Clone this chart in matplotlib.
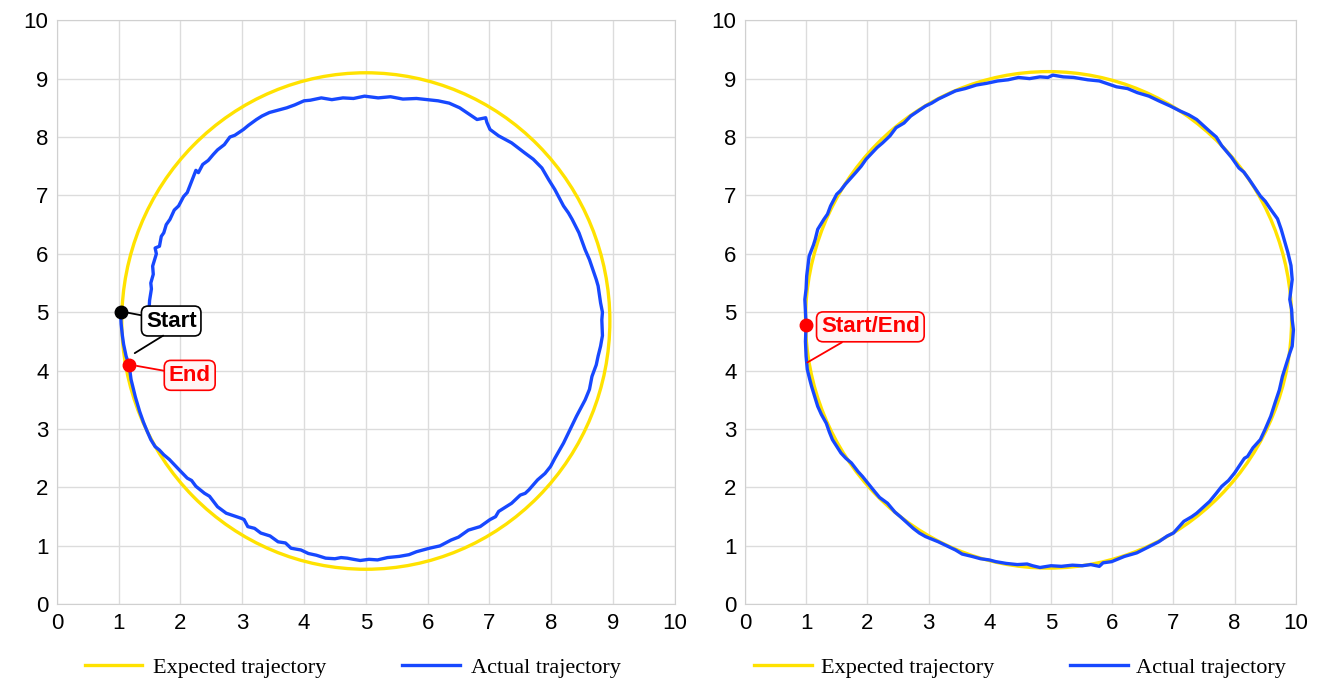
import matplotlib
matplotlib.use('Agg')
import matplotlib.pyplot as plt
from matplotlib.patches import Ellipse
from matplotlib.lines import Line2D

plt.rcParams['font.family'] = ['Liberation Sans', 'DejaVu Sans']

YELLOW = '#FFE200'
BLUE = '#1748FF'

# expected trajectory (ellipse in data units): center x, center y, width, height
left_expected = (5.0, 4.85, 7.9, 8.5)
right_expected = (4.96, 4.87, 7.94, 8.5)

# actual trajectory, left chart
left_x = [1.03, 1.04, 1.06, 1.08, 1.12, 1.17, 1.2, 1.27, 1.34, 1.4, 1.45, 1.52, 1.59, 1.66, 1.73,
          1.82, 1.9, 2.0, 2.11, 2.18, 2.25, 2.39, 2.47, 2.6, 2.74, 2.85, 2.99, 3.03, 3.09, 3.2,
          3.3, 3.45, 3.58, 3.7, 3.79, 3.95, 4.07, 4.2, 4.35, 4.5, 4.6, 4.7, 4.8, 4.91, 5.05,
          5.19, 5.35, 5.54, 5.7, 5.82, 6.03, 6.2, 6.38, 6.5, 6.66, 6.85, 7.01, 7.1, 7.15, 7.36,
          7.5, 7.58, 7.64, 7.78, 7.9, 7.99, 8.06, 8.2, 8.3, 8.41, 8.55, 8.62, 8.66, 8.73, 8.76,
          8.80, 8.83, 8.82, 8.83, 8.80, 8.78, 8.76, 8.73, 8.62, 8.55, 8.45, 8.34, 8.28, 8.2,
          8.06, 7.96, 7.85, 7.71, 7.57, 7.36, 7.15, 7.01, 6.96, 6.94, 6.8, 6.52, 6.35, 6.17,
          6.0, 5.82, 5.6, 5.40, 5.2, 4.98, 4.8, 4.63, 4.45, 4.28, 4.1, 4.0, 3.85, 3.72, 3.58,
          3.44, 3.32, 3.23, 3.1, 3.02, 2.88, 2.8, 2.71, 2.6, 2.53, 2.45, 2.36, 2.29, 2.25, 2.11,
          2.05, 1.97, 1.9, 1.83, 1.77, 1.73, 1.69, 1.66, 1.59, 1.61, 1.55, 1.56, 1.52, 1.53,
          1.52, 1.5, 1.49]
left_y = [5.0, 4.8, 4.6, 4.45, 4.25, 4.09, 3.85, 3.55, 3.3, 3.12, 2.99, 2.82, 2.7, 2.64, 2.56,
          2.48, 2.39, 2.28, 2.16, 2.12, 2.02, 1.9, 1.85, 1.67, 1.56, 1.52, 1.47, 1.45, 1.33, 1.3,
          1.22, 1.17, 1.07, 1.05, 0.96, 0.93, 0.87, 0.84, 0.79, 0.78, 0.8, 0.79, 0.77, 0.75, 0.77,
          0.76, 0.8, 0.82, 0.85, 0.9, 0.96, 1.0, 1.1, 1.15, 1.27, 1.33, 1.45, 1.5, 1.59, 1.73,
          1.87, 1.9, 1.96, 2.13, 2.24, 2.36, 2.5, 2.76, 2.98, 3.22, 3.5, 3.68, 3.9, 4.1, 4.25,
          4.42, 4.6, 4.87, 5.0, 5.16, 5.3, 5.45, 5.56, 5.9, 6.07, 6.36, 6.59, 6.7, 6.82, 7.1,
          7.27, 7.47, 7.62, 7.73, 7.9, 8.02, 8.13, 8.25, 8.33, 8.30, 8.50, 8.58, 8.62, 8.64,
          8.66, 8.65, 8.69, 8.67, 8.70, 8.66, 8.67, 8.64, 8.67, 8.63, 8.62, 8.55, 8.50, 8.46,
          8.42, 8.36, 8.30, 8.2, 8.13, 8.03, 8.0, 7.87, 7.78, 7.70, 7.6, 7.53, 7.39, 7.43, 7.05,
          6.98, 6.82, 6.75, 6.59, 6.5, 6.36, 6.3, 6.13, 6.10, 6.0, 5.79, 5.65, 5.50, 5.4, 5.33,
          5.2, 5.0]

# actual trajectory, right chart
right_x = [1.0, 0.99, 0.98, 1.0, 1.01, 1.05, 1.12, 1.15, 1.19, 1.29, 1.35, 1.40, 1.50, 1.56, 1.64,
           1.81, 1.9, 1.98, 2.16, 2.25, 2.37, 2.47, 2.6, 2.71, 2.95, 3.05, 3.16, 3.3, 3.44,
           3.6, 3.78, 3.95, 4.13, 4.3, 4.47, 4.65, 4.82, 4.95, 5.03, 5.2, 5.37, 5.6, 5.79, 5.9,
           6.07, 6.25, 6.41, 6.6, 6.76, 6.95, 7.1, 7.25, 7.38, 7.59, 7.7, 7.79, 7.95, 8.07,
           8.15, 8.24, 8.42, 8.5, 8.59, 8.7, 8.76, 8.82, 8.87, 8.92, 8.94, 8.9, 8.93, 8.94,
           8.96, 8.94, 8.9, 8.83, 8.78, 8.73, 8.66, 8.59, 8.5, 8.42, 8.3, 8.21, 8.16, 8.14,
           8.0, 7.9, 7.79, 7.7, 7.59, 7.38, 7.3, 7.17, 7.0, 6.9, 6.76, 6.55, 6.4, 6.2, 5.99,
           5.85, 5.79, 5.65, 5.51, 5.35, 5.17, 5.0, 4.82, 4.7, 4.61, 4.45, 4.27, 4.1, 3.99,
           3.85, 3.71, 3.55, 3.44, 3.3, 3.16, 2.95, 2.85, 2.75, 2.54, 2.45, 2.33, 2.2, 2.12,
           1.92, 1.85, 1.74, 1.65, 1.57, 1.43, 1.38, 1.33, 1.25, 1.19, 1.09, 1.06, 1.02, 1.0,
           0.99, 1.0]
right_y = [4.79, 5.0, 5.22, 5.4, 5.62, 5.96, 6.15, 6.25, 6.42, 6.59, 6.68, 6.82, 7.02, 7.08, 7.19,
           7.39, 7.5, 7.62, 7.82, 7.9, 8.02, 8.16, 8.24, 8.36, 8.53, 8.58, 8.65, 8.72, 8.79,
           8.83, 8.89, 8.92, 8.96, 8.98, 9.02, 9.0, 9.03, 9.02, 9.06, 9.03, 9.02, 8.98, 8.96,
           8.92, 8.86, 8.83, 8.76, 8.7, 8.62, 8.53, 8.45, 8.38, 8.30, 8.10, 8.0, 7.85, 7.65,
           7.47, 7.40, 7.27, 6.99, 6.9, 6.76, 6.6, 6.42, 6.2, 6.02, 5.8, 5.56, 5.22, 5.05, 4.87,
           4.7, 4.42, 4.3, 4.07, 3.9, 3.67, 3.45, 3.22, 3.0, 2.82, 2.68, 2.53, 2.5, 2.47,
           2.25, 2.12, 2.02, 1.9, 1.76, 1.56, 1.5, 1.42, 1.22, 1.17, 1.07, 0.96, 0.88, 0.82, 0.73,
           0.71, 0.65, 0.68, 0.66, 0.67, 0.65, 0.66, 0.63, 0.66, 0.69, 0.68, 0.70, 0.73, 0.76,
           0.78, 0.82, 0.86, 0.93, 1.0, 1.07, 1.16, 1.22, 1.30, 1.50, 1.58, 1.73, 1.83, 1.93,
           2.19, 2.27, 2.42, 2.5, 2.59, 2.82, 2.95, 3.10, 3.25, 3.39, 3.73, 3.85, 4.02, 4.25,
           4.5, 4.79]

x_ticks_left = list(range(0, 11))
x_labels_left = [str(v) for v in x_ticks_left]
x_ticks_right = list(range(0, 10))
x_labels_right = ['0', '1', '2', '3', '4', '5', '6', '7', '8', '10']
y_ticks = list(range(0, 11))

fig = plt.figure(figsize=(13.23, 6.97), dpi=100, facecolor='white')
ax1 = fig.add_axes([0.043, 0.133, 0.467, 0.838])
ax2 = fig.add_axes([0.563, 0.133, 0.4165, 0.838])


def style(ax, xt, xl, xmax):
    ax.set_xlim(0, xmax)
    ax.set_ylim(0, 10)
    ax.set_xticks(xt)
    ax.set_xticklabels(xl)
    ax.set_yticks(y_ticks)
    ax.grid(color='#dcdcdc', lw=1)
    ax.set_axisbelow(True)
    for s in ax.spines.values():
        s.set_color('#d0d0d0')
    ax.tick_params(length=0, labelsize=16, pad=6)


def draw(ax, exp, xs, ys):
    cx, cy, w, h = exp
    ax.add_patch(Ellipse((cx, cy), w, h, fill=False, ec=YELLOW, lw=2.4, zorder=2))
    ax.plot(xs, ys, color=BLUE, lw=2.4, zorder=3)


style(ax1, x_ticks_left, x_labels_left, 10)
style(ax2, x_ticks_right, x_labels_right, 9)
draw(ax1, left_expected, left_x, left_y)
draw(ax2, right_expected, right_x, right_y)

# markers and labels
ax1.plot(left_x[0], left_y[0], 'o', color='black', ms=9, zorder=5)
ax1.plot(left_x[5], left_y[5], 'o', color='#ff0000', ms=9, zorder=5)
ax2.plot(right_x[0], right_y[0], 'o', color='#ff0000', ms=9, zorder=5)

box_k = dict(boxstyle='round,pad=0.2,rounding_size=0.3', fc='white', ec='black', lw=1.2)
box_r = dict(boxstyle='round,pad=0.2,rounding_size=0.3', fc='#fff4f4', ec='#ff0000', lw=1.2)

ax1.annotate('Start', xy=(left_x[0] + 0.08, left_y[0]), xytext=(1.85, 4.85), ha='center', va='center',
             fontsize=16, fontweight='bold', color='black', bbox=box_k, zorder=6,
             arrowprops=dict(arrowstyle='-', color='black', lw=1.3, shrinkA=0, shrinkB=2))
ax1.annotate('', xy=(1.26, 4.3), xytext=(1.72, 4.6),
             arrowprops=dict(arrowstyle='-', color='black', lw=1.3, shrinkA=0, shrinkB=0), zorder=6)
ax1.annotate('End', xy=(left_x[5] + 0.08, left_y[5]), xytext=(2.15, 3.92), ha='center', va='center',
             fontsize=16, fontweight='bold', color='#ff0000', bbox=box_r, zorder=6,
             arrowprops=dict(arrowstyle='-', color='#ff0000', lw=1.3, shrinkA=0, shrinkB=2))
ax2.annotate('Start/End', xy=(1.02, 4.14), xytext=(2.05, 4.75), ha='center', va='center',
             fontsize=16, fontweight='bold', color='#ff0000', bbox=box_r, zorder=6,
             arrowprops=dict(arrowstyle='-', color='#ff0000', lw=1.3, shrinkA=0, shrinkB=0,
                             relpos=(0.3, 0.0)))

handles = [Line2D([], [], color=YELLOW, lw=2.4), Line2D([], [], color=BLUE, lw=2.4)]
names = ['Expected trajectory', 'Actual trajectory']
leg_font = {'family': 'Liberation Serif', 'size': 16}
ax1.legend(handles, names, loc='center', bbox_to_anchor=(0.479, -0.108), ncol=2, frameon=False,
           prop=leg_font, handlelength=2.6, handletextpad=0.5, columnspacing=3.4)
ax2.legend(handles, names, loc='center', bbox_to_anchor=(0.5, -0.108), ncol=2, frameon=False,
           prop=leg_font, handlelength=2.6, handletextpad=0.4, columnspacing=3.4)

fig.savefig('out.png', dpi=100, facecolor='white')
